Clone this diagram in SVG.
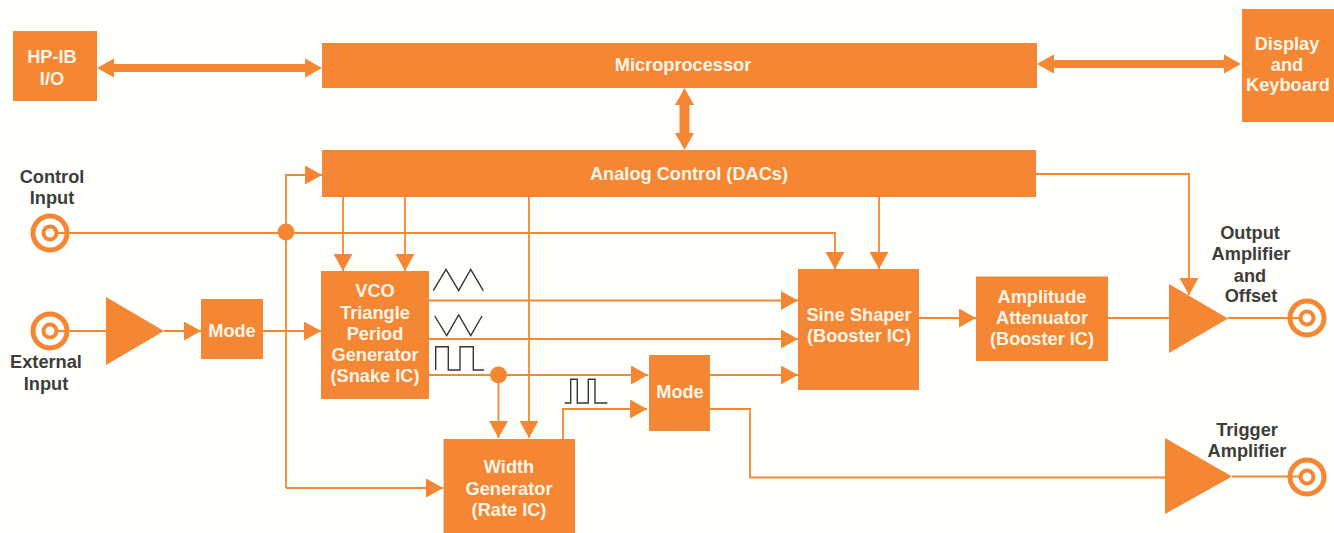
<svg xmlns="http://www.w3.org/2000/svg" width="1334" height="533" viewBox="0 0 1334 533">
<style>
text{font-family:"Liberation Sans",Arial,sans-serif;font-weight:bold;font-size:18.2px;text-anchor:middle}
.n{fill:#f58634}
.t{fill:#fff6e8}
.d{fill:#3d3d3a}
.c{fill:none;stroke:#f58634;stroke-width:1.8}
.a{marker-end:url(#ah)}
.w{fill:none;stroke:#33363a;stroke-width:1.4}
.j{fill:none;stroke:#f58634}
</style>
<defs>
<marker id="ah" markerUnits="userSpaceOnUse" markerWidth="18" markerHeight="20" refX="17" refY="9.500" orient="auto"><path d="M0 0L17 9.500L0 19Z" fill="#f58634"/></marker>
</defs>
<rect width="1334" height="533" fill="#fffffb"/>
<g id="connectors">
<path class="n" d="M97 68L114 58.500V64H305V58.500L322 68L305 77.500V72H114V77.500Z"/>
<path class="n" d="M1037 64L1054 54.500V60H1224V54.500L1241 64L1224 73.500V68H1054V73.500Z"/>
<path class="n" d="M684.500 88L694 105H689.500V133H694L684.500 150L675 133H679.500V105H675Z"/>
<path class="c a" d="M56 233H835V269"/>
<path class="c a" d="M286 488V175H322"/>
<path class="c a" d="M286 488H443"/>
<path class="c a" d="M343 197V271"/>
<path class="c a" d="M405 197V271"/>
<path class="c a" d="M529 197V438"/>
<path class="c a" d="M879 197V269"/>
<path class="c a" d="M1036 174H1189V295"/>
<path class="c" d="M56 331H106"/>
<path class="c a" d="M164 331H201"/>
<path class="c a" d="M263 331H321"/>
<path class="c a" d="M429 300.500H798"/>
<path class="c a" d="M429 339H798"/>
<path class="c a" d="M429 375H648"/>
<path class="c a" d="M498.500 375V438"/>
<path class="c a" d="M563 439V409H647"/>
<path class="c a" d="M710 375H798"/>
<path class="c" d="M710 409H750V477.500H1165"/>
<path class="c a" d="M919 318H976"/>
<path class="c" d="M1108 318H1169"/>
<path class="c" d="M1228 318H1301"/>
<path class="c" d="M1232 476.500H1301"/>
<circle class="n" cx="286" cy="232" r="8.500"/>
<circle class="n" cx="498.500" cy="375" r="8.500"/>
</g>
<g id="waveforms">
<path class="w" d="M433.300 290.700L446 269.300L458.700 290.700L470.700 269.300L483.300 290.700"/>
<path class="w" d="M434.700 316L446.700 335.700L458.700 315L470.700 335.700L482 316"/>
<path class="w" d="M435.700 370V346.700H448.300V370H460V346.700H473.300V370H484"/>
<path class="w" d="M564.700 403H570.700V379.300H577.300V403H588.300V379.300H595V403H607.300"/>
</g>
<g id="hpib"><rect class="n" x="13" y="31" width="84" height="70"/><text class="t" x="52" y="63">HP-IB</text><text class="t" x="52" y="85">I/O</text></g>
<g id="microprocessor"><rect class="n" x="322" y="43" width="715" height="45"/><text class="t" x="683" y="71">Microprocessor</text></g>
<g id="display"><rect class="n" x="1242" y="9" width="92" height="113"/><text class="t" x="1287" y="50">Display</text><text class="t" x="1287" y="71">and</text><text class="t" x="1288" y="91">Keyboard</text></g>
<g id="analog"><rect class="n" x="322" y="150" width="714" height="47"/><text class="t" x="689" y="180">Analog Control (DACs)</text></g>
<g id="control-input"><circle class="j" cx="50" cy="233" r="17" stroke-width="5"/><circle class="j" cx="50" cy="233" r="6.500" stroke-width="4"/><text class="d" x="52" y="183">Control</text><text class="d" x="52" y="204">Input</text></g>
<g id="external-input"><circle class="j" cx="50" cy="331" r="17" stroke-width="5"/><circle class="j" cx="50" cy="331" r="6.500" stroke-width="4"/><text class="d" x="46" y="368">External</text><text class="d" x="46" y="390">Input</text></g>
<g id="input-amp"><path class="n" d="M106 297L164 331L106 365Z"/></g>
<g id="mode1"><rect class="n" x="201" y="299" width="62" height="60"/><text class="t" x="232" y="337">Mode</text></g>
<g id="vco"><rect class="n" x="321" y="271" width="108" height="128"/><text class="t" x="375" y="297">VCO</text><text class="t" x="375" y="319">Triangle</text><text class="t" x="375" y="340">Period</text><text class="t" x="375" y="361">Generator</text><text class="t" x="375" y="382">(Snake IC)</text></g>
<g id="width"><rect class="n" x="443.500" y="439" width="131.500" height="94"/><text class="t" x="509" y="473">Width</text><text class="t" x="509" y="495">Generator</text><text class="t" x="509" y="516">(Rate IC)</text></g>
<g id="mode2"><rect class="n" x="649" y="355" width="61" height="76"/><text class="t" x="680" y="398">Mode</text></g>
<g id="sine"><rect class="n" x="798" y="269" width="121" height="121"/><text class="t" x="859" y="321">Sine Shaper</text><text class="t" x="859" y="342">(Booster IC)</text></g>
<g id="attenuator"><rect class="n" x="976" y="276.500" width="132" height="84.500"/><text class="t" x="1042" y="303">Amplitude</text><text class="t" x="1042" y="324">Attenuator</text><text class="t" x="1042" y="345">(Booster IC)</text></g>
<g id="output-amp"><path class="n" d="M1169 284L1228 318.500L1169 353Z"/><text class="d" x="1250" y="239">Output</text><text class="d" x="1251" y="260">Amplifier</text><text class="d" x="1250" y="282">and</text><text class="d" x="1251" y="302">Offset</text></g>
<g id="output-jack"><circle class="j" cx="1307" cy="318" r="17" stroke-width="5"/><circle class="j" cx="1307" cy="318" r="6.500" stroke-width="4"/></g>
<g id="trigger-amp"><path class="n" d="M1165 438L1232 476.500L1165 514Z"/><text class="d" x="1247" y="436">Trigger</text><text class="d" x="1247" y="457">Amplifier</text></g>
<g id="trigger-jack"><circle class="j" cx="1307" cy="477" r="17" stroke-width="5"/><circle class="j" cx="1307" cy="477" r="6.500" stroke-width="4"/></g>
</svg>
